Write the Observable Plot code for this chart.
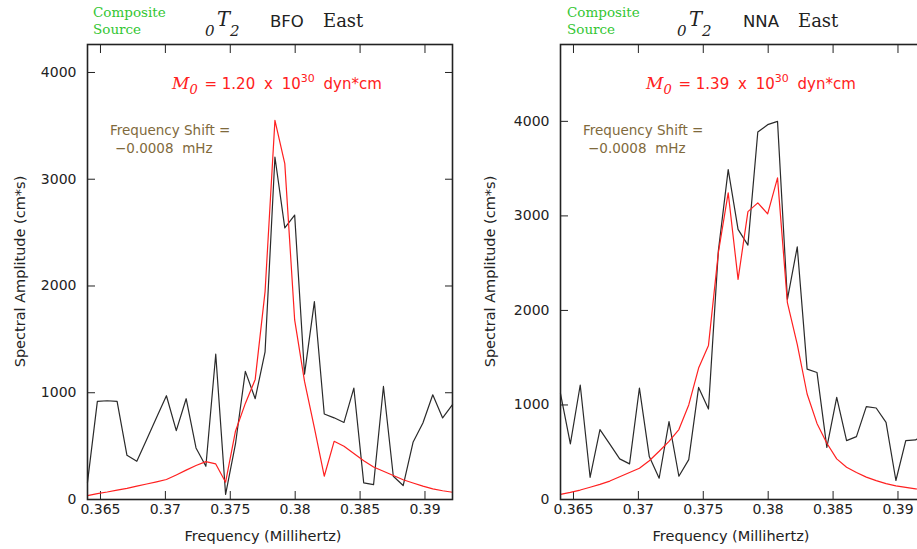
<!DOCTYPE html>
<html><head><meta charset="utf-8">
<script src="https://cdn.jsdelivr.net/npm/d3@7"></script>
<script src="https://cdn.jsdelivr.net/npm/@observablehq/plot@0.6"></script>
<style>
html,body{margin:0;padding:0;background:#fff;}
#wrap{position:relative;width:917px;height:549px;overflow:hidden;background:#fff;}
#wrap svg{position:absolute;top:0;overflow:visible;}
</style></head><body><div id="wrap"></div>
<script>
// Frequencies (mHz) of the spectral samples
const freq = [0.36400,0.36476,0.36552,0.36628,0.36704,0.36780,0.36856,0.36932,0.37008,0.37084,
  0.37160,0.37236,0.37312,0.37388,0.37464,0.37540,0.37616,0.37692,0.37768,0.37844,
  0.37920,0.37996,0.38072,0.38148,0.38224,0.38300,0.38376,0.38452,0.38528,0.38604,
  0.38680,0.38756,0.38832,0.38908,0.38984,0.39060,0.39136,0.39212];
// BFO East
const bfoObserved = [160,919,925,919,414,358,563,767,972,645,944,483,311,1361,47,520,1200,944,1383,3208,
  2545,2664,1174,1853,801,765,722,1044,156,140,1059,218,131,536,717,981,764,888];
const bfoSynthetic = [37,55,70,88,105,125,145,165,187,230,275,318,355,333,162,640,900,1125,1947,3551,
  3146,1682,1106,670,218,545,498,430,364,305,265,225,185,155,125,100,82,68];
// NNA East
const nnaObserved = [1120,588,1211,235,739,585,430,377,1179,454,225,823,246,422,1186,957,2628,3490,2857,2691,
  3887,3965,4000,2118,2673,1379,1344,552,1080,623,665,982,968,816,201,623,630,700];
const nnaSynthetic = [55,75,100,130,160,195,240,285,330,410,510,615,740,1000,1390,1630,2610,3244,2329,3045,
  3138,3022,3402,2082,1640,1116,805,595,430,341,285,237,200,168,145,128,113,100];

const xTicks = [0.365,0.37,0.375,0.38,0.385,0.39];
const yTicks = [0,1000,2000,3000,4000];
const stations = ["BFO","NNA"];
const moments = ["1.20","1.39"];
const shifts = ["\u22120.0008","\u22120.0008"];
const yMaxes = [4262,4813];

const RED = "#ff2020", INK = "#222", BROWN = "#7f6a3c", GREEN = "#33c633";

function makePanel(obs, syn, yMax, width, marginLeft) {
  const rows = freq.map((f, i) => ({f, obs: obs[i], syn: syn[i]}));
  return Plot.plot({
    width, height: 549,
    marginLeft, marginRight: 8, marginTop: 44, marginBottom: 50,
    x: {domain: [0.3640, 0.39212], label: null},
    y: {domain: [0, yMax], label: null},
    style: {fontFamily: "DejaVu Sans", fontSize: "14px", color: INK, background: "transparent", overflow: "visible"},
    marks: [
      Plot.axisX(xTicks, {anchor: "bottom", tickSize: -8, tickPadding: 13, tickFormat: d => String(d), label: null, fontSize: 14}),
      Plot.axisX(xTicks, {anchor: "top", tickSize: -8, tickFormat: () => "", label: null}),
      Plot.axisY(yTicks, {anchor: "left", tickSize: -8, tickPadding: 19, tickFormat: d => String(d), label: null, fontSize: 14}),
      Plot.axisY(yTicks, {anchor: "right", tickSize: -8, tickFormat: () => "", label: null}),
      Plot.line(rows, {x: "f", y: "obs", stroke: "#2a2a2a", strokeWidth: 1.2}),
      Plot.line(rows, {x: "f", y: "syn", stroke: RED, strokeWidth: 1.2}),
      Plot.frame({stroke: INK, strokeWidth: 1.6})
    ]
  });
}

function txt(g, x, y, s, o = {}) {
  return g.append("text").attr("x", x).attr("y", y)
    .attr("font-family", o.family || "DejaVu Sans")
    .attr("font-size", o.size || 14)
    .attr("font-style", o.italic ? "italic" : null)
    .attr("fill", o.fill || INK)
    .attr("text-anchor", o.anchor || "start")
    .style("white-space", "pre")
    .text(s);
}

function annotate(svg, i, o) {
  const g = d3.select(svg).append("g").attr("text-anchor", "start");
  // header
  txt(g, o.comp, 17, "Composite", {family: "DejaVu Serif", size: 13.5, fill: GREEN});
  txt(g, o.comp, 34, "Source", {family: "DejaVu Serif", size: 13.5, fill: GREEN});
  txt(g, o.mode, 36, "0", {family: "DejaVu Serif", size: 15, italic: true});
  txt(g, o.mode + 12, 26, "T", {family: "DejaVu Serif", size: 19.5, italic: true});
  txt(g, o.mode + 25, 36, "2", {family: "DejaVu Serif", size: 15, italic: true});
  txt(g, o.sta, 27, stations[i], {size: 16.5});
  txt(g, o.east, 27, "East", {family: "DejaVu Serif", size: 18});
  // moment
  const t = g.append("text").attr("x", o.m0).attr("y", 89).attr("fill", RED)
    .attr("text-anchor", "start")
    .attr("font-family", "DejaVu Sans").attr("font-size", 15).style("white-space", "pre");
  t.append("tspan").attr("font-family", "DejaVu Serif").attr("font-style", "italic").attr("font-size", 17).text("M");
  t.append("tspan").attr("font-family", "DejaVu Serif").attr("font-style", "italic").attr("font-size", 13).attr("dy", 5).text("0");
  t.append("tspan").attr("dy", -5).attr("dx", 2).text(" = " + moments[i]);
  t.append("tspan").attr("dx", 4).text(" x");
  t.append("tspan").attr("dx", 4).text(" 10");
  t.append("tspan").attr("dy", -7).attr("font-size", 11).text("30");
  t.append("tspan").attr("dy", 7).attr("dx", 4).text(" dyn*cm");
  // frequency shift
  txt(g, o.fs, 135, "Frequency Shift =", {size: 13.5, fill: BROWN});
  txt(g, o.fs + 5, 153, shifts[i] + "  mHz", {size: 13.5, fill: BROWN});
  // axis titles
  txt(g, o.xl, 541, "Frequency (Millihertz)", {size: 14.5, anchor: "middle"});
  txt(g, 0, 0, "Spectral Amplitude (cm*s)", {size: 14.5, anchor: "middle"})
    .attr("transform", `translate(${o.yl},271.5) rotate(-90)`);
}

const wrap = document.getElementById("wrap");
const left = makePanel(bfoObserved, bfoSynthetic, yMaxes[0], 460, 87);
left.style.left = "0px";
annotate(left, 0, {comp: 93, mode: 205, sta: 270, east: 323, m0: 172, fs: 110, xl: 263, yl: 25});
wrap.appendChild(left);

const right = makePanel(nnaObserved, nnaSynthetic, yMaxes[1], 473, 100);
right.style.left = "460px";
annotate(right, 1, {comp: 107, mode: 217, sta: 283, east: 338, m0: 186, fs: 123, xl: 271, yl: 35});
wrap.appendChild(right);
</script></body></html>
